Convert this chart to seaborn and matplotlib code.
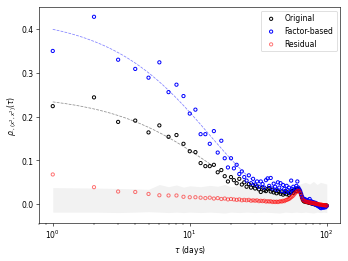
import numpy as np
import pandas as pd
import seaborn as sns
import matplotlib
matplotlib.use("Agg")
import matplotlib.pyplot as plt

# lag in days
days = list(range(1, 101))

original = [
    0.224, 0.244, 0.188, 0.191, 0.164, 0.180, 0.154, 0.158, 0.138, 0.121,
    0.119, 0.094, 0.087, 0.087, 0.090, 0.073, 0.078, 0.064, 0.052, 0.062,
    0.055, 0.048, 0.058, 0.045, 0.050, 0.040, 0.046, 0.038, 0.044, 0.036,
    0.041, 0.034, 0.028, 0.038, 0.032, 0.030, 0.035, 0.037, 0.029, 0.033,
    0.027, 0.031, 0.025, 0.030, 0.028, 0.024, 0.029, 0.022, 0.026, 0.030,
    0.023, 0.027, 0.021, 0.025, 0.028, 0.030, 0.026, 0.032, 0.034, 0.030,
    0.036, 0.035, 0.033, 0.028, 0.022, 0.015, 0.010, 0.007, 0.006, 0.008,
    0.005, 0.006, 0.004, 0.005, 0.003, 0.004, 0.002, 0.003, 0.001, 0.002,
    0.000, 0.001, -0.001, 0.000, -0.002, -0.001, -0.003, -0.002, -0.004, -0.003,
    -0.005, -0.004, -0.003, -0.004, -0.003, -0.005, -0.004, -0.003, -0.004, -0.003,
]

factor_based = [
    0.350, 0.428, 0.330, 0.309, 0.289, 0.324, 0.256, 0.273, 0.247, 0.207,
    0.216, 0.160, 0.160, 0.138, 0.167, 0.118, 0.145, 0.105, 0.084, 0.105,
    0.082, 0.090, 0.069, 0.075, 0.062, 0.054, 0.066, 0.048, 0.058, 0.045,
    0.052, 0.040, 0.052, 0.046, 0.038, 0.055, 0.059, 0.042, 0.060, 0.036,
    0.047, 0.040, 0.033, 0.050, 0.038, 0.048, 0.030, 0.044, 0.035, 0.028,
    0.042, 0.032, 0.038, 0.026, 0.054, 0.034, 0.040, 0.030, 0.036, 0.042,
    0.052, 0.038, 0.034, 0.030, 0.024, 0.018, 0.014, 0.010, 0.012, 0.008,
    0.010, 0.006, 0.009, 0.005, 0.012, 0.004, 0.007, 0.002, 0.005, 0.001,
    0.004, 0.000, 0.003, -0.002, 0.001, -0.004, -0.001, -0.006, -0.003, -0.008,
    -0.009, -0.005, -0.007, -0.004, -0.008, -0.006, -0.003, -0.007, -0.005, -0.004,
]

residual = [
    0.068, 0.039, 0.029, 0.028, 0.0235, 0.0205, 0.020, 0.020, 0.017, 0.016,
    0.016, 0.015, 0.014, 0.015, 0.013, 0.014, 0.012, 0.013, 0.011, 0.012,
    0.011, 0.010, 0.011, 0.009, 0.010, 0.009, 0.010, 0.008, 0.009, 0.008,
    0.009, 0.007, 0.008, 0.007, 0.008, 0.006, 0.007, 0.006, 0.007, 0.005,
    0.006, 0.005, 0.006, 0.005, 0.006, 0.007, 0.006, 0.008, 0.007, 0.009,
    0.010, 0.011, 0.012, 0.014, 0.016, 0.018, 0.020, 0.023, 0.026, 0.028,
    0.030, 0.031, 0.030, 0.026, 0.020, 0.014, 0.010, 0.008, 0.007, 0.006,
    0.006, 0.005, 0.005, 0.004, 0.004, 0.004, 0.003, 0.003, 0.003, 0.002,
    0.002, 0.002, 0.001, 0.001, 0.001, 0.000, 0.000, 0.000, -0.001, -0.001,
    -0.001, -0.001, -0.002, -0.002, -0.002, -0.002, -0.002, -0.003, -0.003, -0.003,
]

# null band (shaded)
band_days = [1, 2, 3, 4, 5, 6, 7, 8, 9, 10, 12, 14, 16, 18, 20, 23, 26, 30,
             35, 40, 45, 50, 55, 60, 65, 70, 75, 80, 85, 90, 95, 100]
band_upper = [0.038, 0.037, 0.036, 0.035, 0.034, 0.045, 0.040, 0.044, 0.039,
              0.042, 0.040, 0.043, 0.041, 0.045, 0.040, 0.043, 0.039, 0.042,
              0.040, 0.038, 0.041, 0.037, 0.040, 0.043, 0.047, 0.050, 0.046,
              0.052, 0.045, 0.050, 0.048, 0.046]
band_lower = [-0.018, -0.018, -0.019, -0.018, -0.017, -0.018, -0.019, -0.018,
              -0.019, -0.018, -0.019, -0.018, -0.019, -0.020, -0.018, -0.019,
              -0.018, -0.019, -0.018, -0.019, -0.020, -0.018, -0.019, -0.018,
              -0.019, -0.018, -0.019, -0.020, -0.018, -0.019, -0.018, -0.019]

# exponential fits a*exp(-tau/T), fitted up to tau_max
fit_original = (0.251, 14.0, 15)
fit_factor = (0.429, 14.0, 30)

df = pd.DataFrame({"days": days, "Original": original,
                   "Factor-based": factor_based, "Residual": residual})

fig, ax = plt.subplots(figsize=(6.4, 4.8), dpi=54.5)

ax.fill_between(band_days, band_lower, band_upper, color="0.95", lw=0, zorder=0)

for (a, T, tmax), c, al in [(fit_original, "gray", 0.9), (fit_factor, "blue", 0.5)]:
    t = np.linspace(1, tmax, 200)
    ax.plot(t, a * np.exp(-t / T), ls="--", lw=1, color=c, alpha=al, zorder=1)

for col, c, al in [("Original", "black", 1.0), ("Factor-based", "blue", 1.0),
                   ("Residual", "red", 0.55)]:
    sns.scatterplot(data=df, x="days", y=col, ax=ax, marker="o", s=18,
                    facecolors="none", edgecolor=c, linewidth=1.3,
                    alpha=al, label=col, zorder=2)

ax.set_xscale("log")
ax.set_xlabel(r"$\tau$ (days)")
ax.set_ylabel(r"$\rho_{\cdot,(x^2,x^2)}(\tau)$")
ax.set_yticks([0.0, 0.1, 0.2, 0.3, 0.4])
ax.legend(loc="upper right")

plt.subplots_adjust(left=0.112, right=0.976, top=0.971, bottom=0.146)
plt.savefig("out.png", dpi=54.5)
plt.close()
